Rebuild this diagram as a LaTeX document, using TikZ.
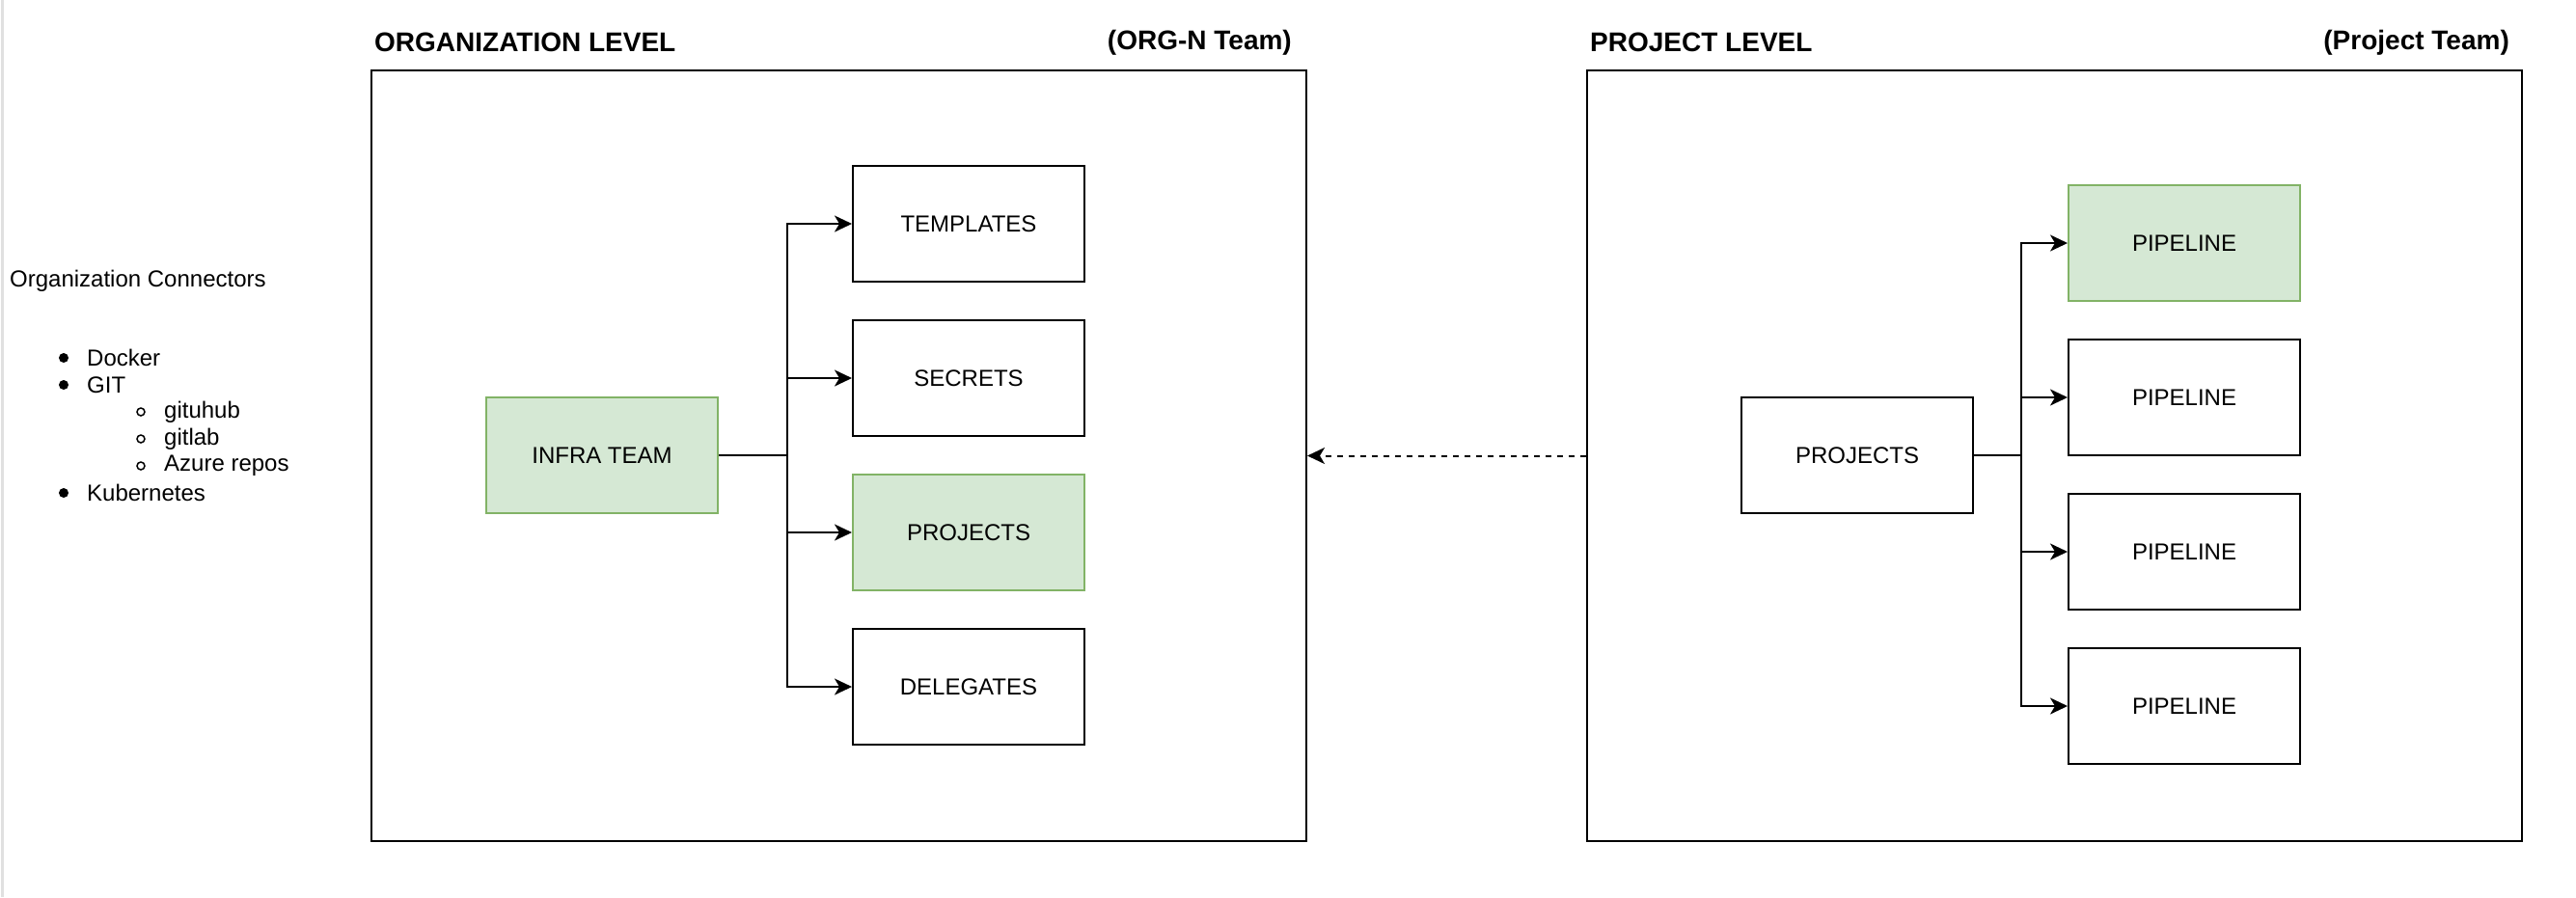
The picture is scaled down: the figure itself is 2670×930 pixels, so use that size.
\documentclass[tikz,border=0pt]{standalone}
\usepackage{fontspec}
\setmainfont{Liberation Sans}
\usetikzlibrary{arrows.meta}
\definecolor{gfill}{HTML}{D5E8D4}
\definecolor{gline}{HTML}{82B366}
\begin{document}
\begin{tikzpicture}[x=1pt,y=-1pt,
  every node/.style={font=\fontsize{24}{28}\selectfont, inner sep=0pt},
  frame/.style={draw, line width=2pt, minimum width=969pt, minimum height=799pt},
  box/.style={draw, line width=2pt, minimum width=240pt, minimum height=120pt, fill=white},
  gbox/.style={box, draw=gline, fill=gfill},
  head/.style={font=\fontsize{28}{32}\selectfont\bfseries},
  link/.style={line width=2pt},
  arr/.style={line width=2pt, -{Stealth[length=18pt,width=17pt,inset=5pt]}},
  darr/.style={line width=2pt, dash pattern=on 6pt off 6pt, -{Stealth[length=18pt,width=17pt,inset=5pt]}},
  bul/.style={fill=black, circle, minimum size=10pt},
  sbul/.style={draw=black, line width=1.5pt, circle, minimum size=8pt}
]
\useasboundingbox (0,0) rectangle (2670,930);
\fill[white] (0,0) rectangle (2670,930);
\draw[black!12, line width=3pt] (2,0) -- (2,930);

% frames
\node[frame] (org) at (869.5,472.5) {};
\node[frame] (prj) at (2129.5,472.5) {};
\node[head, anchor=west] (orgh) at (388,44) {ORGANIZATION LEVEL};
\node[head, anchor=east] (orgt) at (1339,44) {(ORG-N Team)};
\node[head, anchor=west] (prjh) at (1648,44) {PROJECT LEVEL};
\node[head, anchor=east] (prjt) at (2601,44) {(Project Team)};

% organization level
\node[gbox] (infra) at (624,472) {INFRA TEAM};
\node[box] (tmpl) at (1004,232) {TEMPLATES};
\node[box] (secr) at (1004,392) {SECRETS};
\node[gbox] (proj) at (1004,552) {PROJECTS};
\node[box] (dele) at (1004,712) {DELEGATES};
\coordinate (bj) at (816,472);
\draw[link] (infra.east) -- (bj);
\draw[arr] (bj) |- (tmpl.west);
\draw[arr] (bj) |- (secr.west);
\draw[arr] (bj) |- (proj.west);
\draw[arr] (bj) |- (dele.west);

% project level
\node[box] (pprj) at (1925,472) {PROJECTS};
\node[gbox] (p1) at (2264,252) {PIPELINE};
\node[box] (p2) at (2264,412) {PIPELINE};
\node[box] (p3) at (2264,572) {PIPELINE};
\node[box] (p4) at (2264,732) {PIPELINE};
\coordinate (bk) at (2095,472);
\draw[link] (pprj.east) -- (bk);
\draw[arr] (bk) |- (p1.west);
\draw[arr] (bk) |- (p2.west);
\draw[arr] (bk) |- (p3.west);
\draw[arr] (bk) |- (p4.west);

% dependency
\draw[darr] (prj.west) -- (org.east);

% left list
\node[anchor=west] (oc) at (10,291) {Organization Connectors};
\node[bul] (b1) at (66,371) {};
\node[anchor=west] (t1) at (90,371) {Docker};
\node[bul] (b2) at (66,399) {};
\node[anchor=west] (t2) at (90,399) {GIT};
\node[sbul] (s1) at (146,427) {};
\node[anchor=west] (u1) at (170,427) {gituhub};
\node[sbul] (s2) at (146,455) {};
\node[anchor=west] (u2) at (170,455) {gitlab};
\node[sbul] (s3) at (146,483) {};
\node[anchor=west] (u3) at (170,483) {Azure repos};
\node[bul] (b3) at (66,511) {};
\node[anchor=west] (t3) at (90,511) {Kubernetes};
\end{tikzpicture}
\end{document}
